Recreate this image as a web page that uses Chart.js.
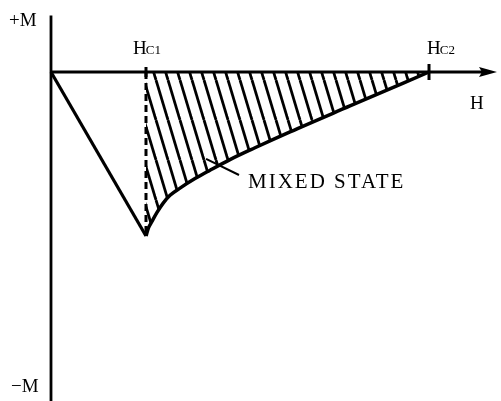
<!DOCTYPE html>
<html>
<head>
<meta charset="utf-8">
<script src="https://cdn.jsdelivr.net/npm/chart.js@4.4.1/dist/chart.umd.min.js"></script>
<style>
	body { margin: 0; background: #fff; }
	#wrap { width: 501px; height: 401px; }
</style>
</head>
<body>
<div id="wrap"><canvas id="chart"></canvas></div>
<script>
// Field H in units of Hc1, magnetization M in units of -M(Hc1)
const meissnerH = [0, 1];
const meissnerM = [0, -1];

const mixedH = [1.0, 1.026, 1.063, 1.116, 1.179, 1.253, 1.358, 1.516, 1.674, 1.884, 2.147, 2.516, 3.147, 3.979];
const mixedM = [-1.0, -0.951, -0.911, -0.856, -0.801, -0.752, -0.708, -0.65, -0.599, -0.534, -0.462, -0.365, -0.207, 0];

const hc1LineH = [1, 1];
const hc1LineM = [0, -1];

const vAxisH = [0, 0];
const vAxisM = [0.345, -2.02];
const hAxisH = [0, 4.6];
const hAxisM = [0, 0];
const arrowH = [4.6];
const arrowM = [0];

const tickH = [1, 3.979];
const tickM = [0, 0];

const leaderH = [1.632, 1.979];
const leaderM = [-0.53, -0.628];

const toPts = (xs, ys) => xs.map((x, i) => ({ x: x, y: ys[i] }));

// hatch pattern for the mixed-state region
function makeHatch() {
	const c = document.createElement("canvas");
	c.width = 12;
	c.height = 40;
	const g = c.getContext("2d");
	g.strokeStyle = "#000";
	g.lineWidth = 2.8;
	[-12, 0, 12].forEach((off) => {
		g.beginPath();
		g.moveTo(off, 0);
		g.lineTo(off + 12, 40);
		g.stroke();
	});
	return g.createPattern(c, "repeat");
}

function makeArrow() {
	const c = document.createElement("canvas");
	c.width = 18;
	c.height = 12;
	const g = c.getContext("2d");
	g.fillStyle = "#000";
	g.beginPath();
	g.moveTo(0, 1);
	g.lineTo(18, 6);
	g.lineTo(0, 11);
	g.lineTo(3, 6);
	g.closePath();
	g.fill();
	return c;
}

const textPlugin = {
	id: "labels",
	afterDraw(chart) {
		const ctx = chart.ctx;
		const xs = chart.scales.x;
		const px = (h) => xs.getPixelForValue(h);
		ctx.save();
		ctx.fillStyle = "#000";
		ctx.textBaseline = "alphabetic";
		ctx.textAlign = "left";

		ctx.font = "19px 'Liberation Serif'";
		ctx.fillText("+M", 9, 26);
		ctx.fillText("\u2212M", 11, 392);

		// H_C1 and H_C2
		const sub = (x, y, s) => {
			ctx.font = "19px 'Liberation Serif'";
			ctx.fillText("H", x, y);
			const w = ctx.measureText("H").width;
			ctx.font = "13px 'Liberation Serif'";
			ctx.fillText(s, x + w - 1, y);
		};
		sub(px(1) - 13, 54, "C1");
		sub(px(3.979) - 2, 54, "C2");

		ctx.font = "19px 'Liberation Serif'";
		ctx.fillText("H", 470, 109);

		ctx.font = "21px 'Liberation Serif'";
		ctx.letterSpacing = "2px";
		ctx.fillText("MIXED STATE", 248, 188);
		ctx.restore();
	},
};

new Chart(document.getElementById("chart"), {
	type: "line",
	data: {
		datasets: [
			{
				data: toPts(mixedH, mixedM),
				borderColor: "#000",
				borderWidth: 3.5,
				backgroundColor: makeHatch(),
				fill: { value: 0 },
				cubicInterpolationMode: "monotone",
				pointRadius: 0,
			},
			{
				data: toPts(meissnerH, meissnerM),
				borderColor: "#000",
				borderWidth: 3.2,
				pointRadius: 0,
			},
			{
				data: toPts(hc1LineH, hc1LineM),
				borderColor: "#000",
				borderWidth: 3,
				borderDash: [7, 4],
				pointRadius: 0,
			},
			{
				data: toPts(vAxisH, vAxisM),
				borderColor: "#000",
				borderWidth: 2.8,
				pointRadius: 0,
			},
			{
				data: toPts(hAxisH, hAxisM),
				borderColor: "#000",
				borderWidth: 2.8,
				pointRadius: 0,
			},
			{
				data: toPts(arrowH, arrowM),
				showLine: false,
				pointStyle: makeArrow(),
				pointRadius: 9,
			},
			{
				data: toPts(tickH, tickM),
				showLine: false,
				pointStyle: "line",
				rotation: 90,
				pointRadius: [5, 8],
				borderColor: "#000",
				pointBorderWidth: 3,
			},
			{
				data: toPts(leaderH, leaderM),
				borderColor: "#000",
				borderWidth: 2,
				pointRadius: 0,
			},
		],
	},
	options: {
		responsive: true,
		maintainAspectRatio: false,
		animation: false,
		layout: { padding: 0, autoPadding: false },
		scales: {
			x: { type: "linear", display: false, min: -0.5368, max: 4.7368 },
			y: { type: "linear", display: false, min: -2.006, max: 0.439 },
		},
		plugins: { legend: { display: false }, tooltip: { enabled: false } },
	},
	plugins: [textPlugin],
});
</script>
</body>
</html>
